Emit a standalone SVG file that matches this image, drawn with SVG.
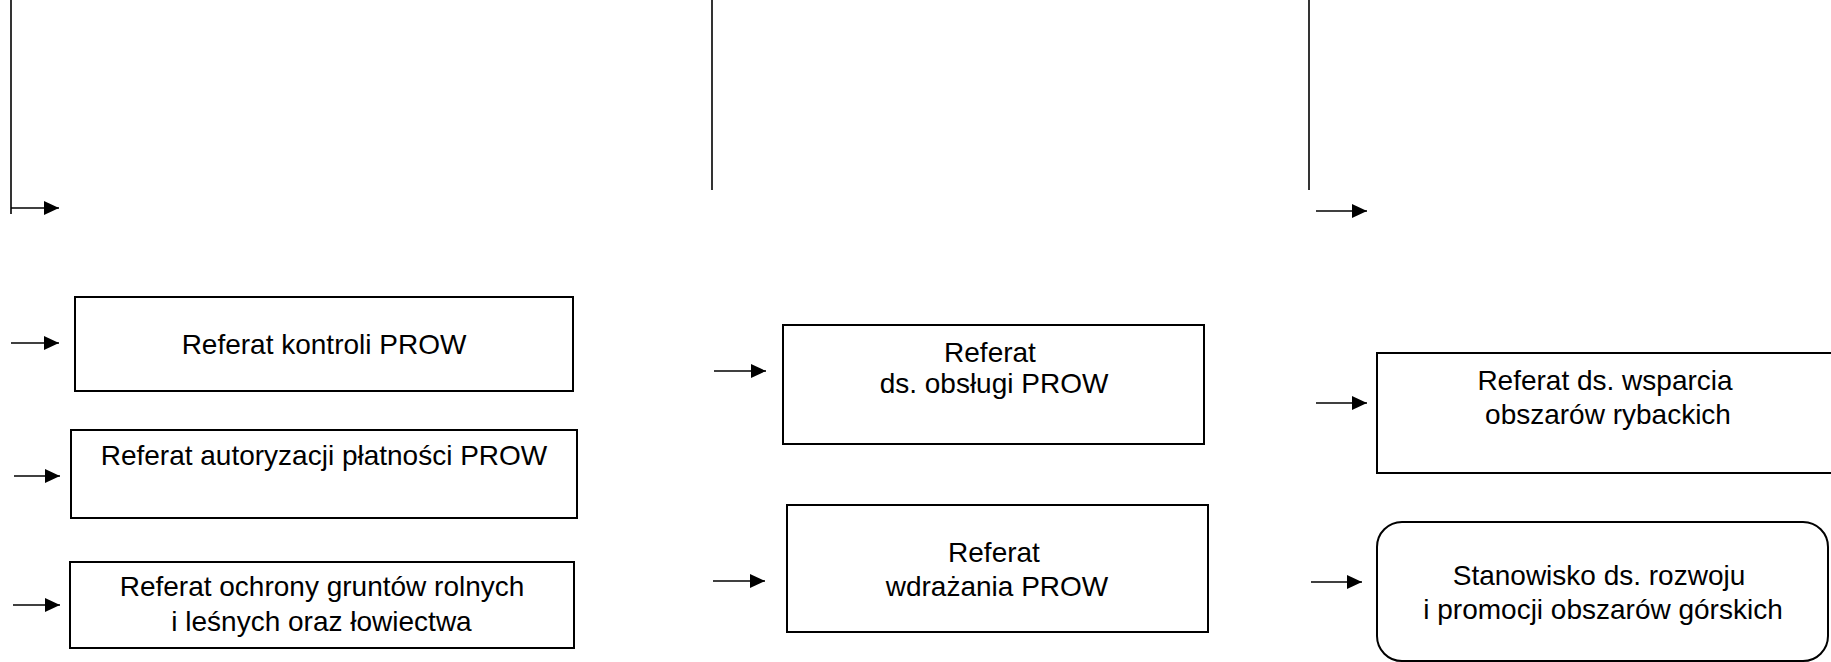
<svg xmlns="http://www.w3.org/2000/svg" width="1831" height="662" viewBox="0 0 1831 662">
<style>
.box{fill:#fff;stroke:#000;stroke-width:2}
.lbl{font-family:"Liberation Sans",Arial,sans-serif;font-size:28px;fill:#000;text-anchor:middle}
.con{stroke:#000;stroke-width:1.3;fill:none}
.vl{stroke:#000;stroke-width:1.6;fill:none}
</style>
<defs>
<marker id="ah" markerUnits="userSpaceOnUse" markerWidth="15" markerHeight="14" refX="15" refY="7" orient="auto">
<path d="M0,0 L15,7 L0,14 Z" fill="#000"/>
</marker>
</defs>
<rect width="1831" height="662" fill="#fff"/>
<g id="connectors">
<line class="vl" x1="11" y1="0" x2="11" y2="214"/>
<line class="vl" x1="712" y1="0" x2="712" y2="190"/>
<line class="vl" x1="1309" y1="0" x2="1309" y2="190"/>
<line class="con" x1="11" y1="208" x2="59" y2="208" marker-end="url(#ah)"/>
<line class="con" x1="11" y1="343" x2="59" y2="343" marker-end="url(#ah)"/>
<line class="con" x1="14" y1="476" x2="60" y2="476" marker-end="url(#ah)"/>
<line class="con" x1="13" y1="605" x2="60" y2="605" marker-end="url(#ah)"/>
<line class="con" x1="714" y1="371" x2="766" y2="371" marker-end="url(#ah)"/>
<line class="con" x1="713" y1="581" x2="765" y2="581" marker-end="url(#ah)"/>
<line class="con" x1="1316" y1="211" x2="1367" y2="211" marker-end="url(#ah)"/>
<line class="con" x1="1316" y1="403" x2="1367" y2="403" marker-end="url(#ah)"/>
<line class="con" x1="1311" y1="582" x2="1362" y2="582" marker-end="url(#ah)"/>
</g>
<g id="node-kontroli">
<rect class="box" x="75" y="297" width="498" height="94"/>
<text class="lbl" x="324" y="354">Referat kontroli PROW</text>
</g>
<g id="node-autoryzacji">
<rect class="box" x="71" y="430" width="506" height="88"/>
<text class="lbl" x="324" y="465">Referat autoryzacji płatności PROW</text>
</g>
<g id="node-ochrony">
<rect class="box" x="70" y="562" width="504" height="86"/>
<text class="lbl" x="322" y="596">Referat ochrony gruntów rolnych</text>
<text class="lbl" x="321.5" y="631">i leśnych oraz łowiectwa</text>
</g>
<g id="node-obslugi">
<rect class="box" x="783" y="325" width="421" height="119"/>
<text class="lbl" x="990" y="362">Referat</text>
<text class="lbl" x="994" y="393">ds. obsługi PROW</text>
</g>
<g id="node-wdrazania">
<rect class="box" x="787" y="505" width="421" height="127"/>
<text class="lbl" x="994" y="562">Referat</text>
<text class="lbl" x="997" y="596">wdrażania PROW</text>
</g>
<g id="node-rybackich">
<rect class="box" x="1377" y="353" width="470" height="120"/>
<text class="lbl" x="1605" y="390">Referat ds. wsparcia</text>
<text class="lbl" x="1608" y="424">obszarów rybackich</text>
</g>
<g id="node-gorskich">
<rect class="box" x="1377" y="522" width="451" height="139" rx="25" ry="25"/>
<text class="lbl" x="1599" y="585">Stanowisko ds. rozwoju</text>
<text class="lbl" x="1603" y="619">i promocji obszarów górskich</text>
</g>
</svg>
